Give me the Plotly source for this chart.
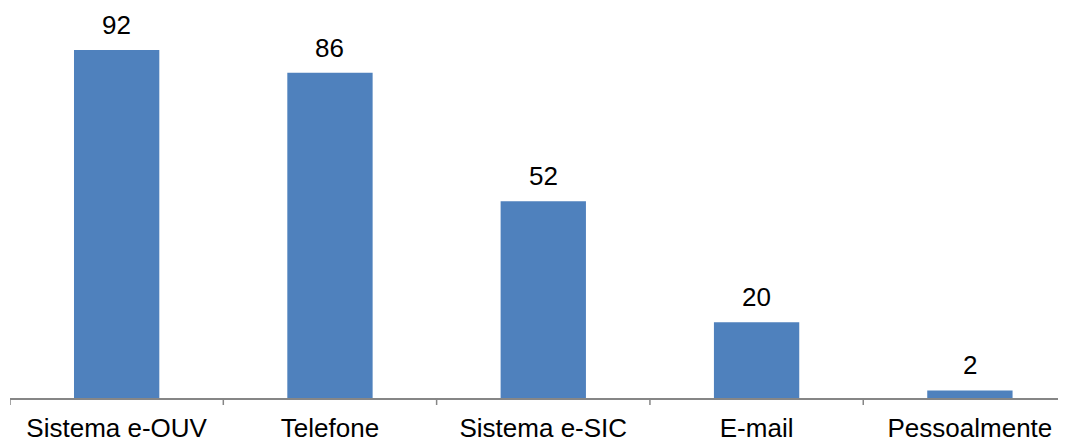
import plotly.graph_objects as go

categories = ["Sistema e-OUV", "Telefone", "Sistema e-SIC", "E-mail", "Pessoalmente"]
values = [92, 86, 52, 20, 2]

FONT = "Liberation Sans, Arial, sans-serif"

fig = go.Figure()
fig.add_trace(go.Bar(
    x=list(range(len(categories))),
    y=values,
    width=0.4,
    marker=dict(color="#4F81BD", line=dict(width=0)),
    hoverinfo="skip",
))

for i, v in enumerate(values):
    fig.add_annotation(x=i, y=v, text=str(v), showarrow=False,
                       yanchor="bottom", yshift=8,
                       font=dict(family=FONT, size=26, color="#000000"))

# page body has an 8px default margin; figure offset compensated below
fig.update_layout(
    width=1066, height=442,
    margin=dict(l=2, r=0, t=0, b=52),
    plot_bgcolor="white", paper_bgcolor="white",
    showlegend=False,
    font=dict(family=FONT, size=26, color="#000000"),
    xaxis=dict(
        range=[-0.5, 4.488],
        tickmode="array",
        tickvals=list(range(len(categories))),
        ticktext=categories,
        showgrid=False, zeroline=False,
        showline=True, linecolor="#868686", linewidth=1.5,
        ticks="",
        ticklabelstandoff=6,
        automargin=False,
        tickfont=dict(family=FONT, size=26, color="#000000"),
        fixedrange=True,
    ),
    yaxis=dict(range=[0, 103.1], visible=False, fixedrange=True, automargin=False),
)

for b in [-0.5, 0.5, 1.5, 2.5, 3.5]:
    fig.add_shape(type="line", xref="x", yref="paper", x0=b, x1=b, y0=0, y1=-0.018,
                  line=dict(color="#868686", width=1.5))

fig.write_html("out.html")
